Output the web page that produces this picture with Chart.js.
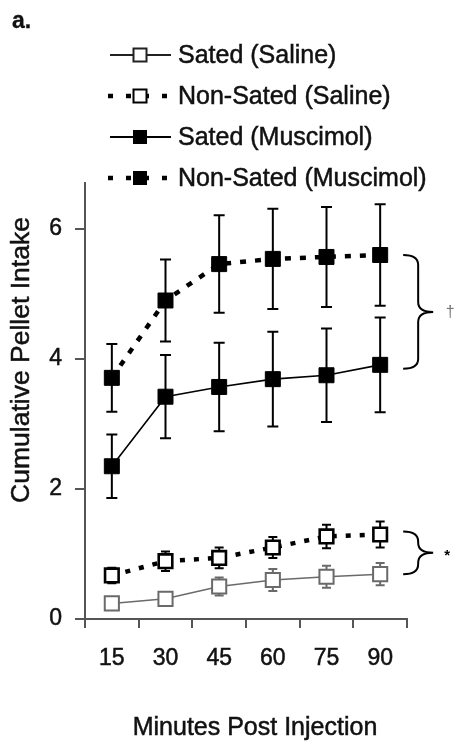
<!DOCTYPE html>
<html>
<head>
<meta charset="utf-8">
<script src="https://cdn.jsdelivr.net/npm/chart.js@4.4.1/dist/chart.umd.min.js"></script>
<style>
  html, body { margin: 0; padding: 0; background: #fff; }
  #wrap { width: 455px; height: 748px; position: relative; }
</style>
</head>
<body>
<div id="wrap"><canvas id="c"></canvas></div>
<script>
// Time points (minutes after injection)
const minutes = ['15', '30', '45', '60', '75', '90'];

// Group means and SEM
const satedSaline          = [0.24, 0.31, 0.50, 0.60, 0.65, 0.69];
const satedSalineErr       = [0.05, 0.05, 0.14, 0.17, 0.17, 0.17];
const nonSatedSaline       = [0.67, 0.89, 0.94, 1.10, 1.27, 1.30];
const nonSatedSalineErr    = [0.12, 0.15, 0.16, 0.16, 0.18, 0.20];
const satedMuscimol        = [2.35, 3.42, 3.57, 3.69, 3.75, 3.91];
const satedMuscimolErr     = [0.49, 0.64, 0.68, 0.73, 0.72, 0.73];
const nonSatedMuscimol     = [3.71, 4.90, 5.46, 5.54, 5.57, 5.60];
const nonSatedMuscimolErr  = [0.52, 0.63, 0.75, 0.77, 0.77, 0.78];

const yTicks = [0, 2, 4, 6];
const seriesLabels = ['Sated (Saline)', 'Non-Sated (Saline)', 'Sated (Muscimol)', 'Non-Sated (Muscimol)'];
const xTitle = 'Minutes Post Injection';
const yTitle = 'Cumulative Pellet Intake';

const FONT = '"Liberation Sans", Arial, Helvetica, sans-serif';
const GREY = '#6a6a6a';
const INK = '#111';

const datasets = [
  {
    label: seriesLabels[0], data: satedSaline, err: satedSalineErr,
    borderColor: GREY, borderWidth: 1.5, borderDash: [],
    pointStyle: 'rect', pointRadius: 10, pointBorderWidth: 2,
    pointBackgroundColor: '#fff', pointBorderColor: GREY, capW: 9, errColor: GREY
  },
  {
    label: seriesLabels[1], data: nonSatedSaline, err: nonSatedSalineErr,
    borderColor: '#000', borderWidth: 4.5, borderDash: [5, 9],
    pointStyle: 'rect', pointRadius: 9.6, pointBorderWidth: 2.6,
    pointBackgroundColor: '#fff', pointBorderColor: '#000', capW: 9, errColor: '#000'
  },
  {
    label: seriesLabels[2], data: satedMuscimol, err: satedMuscimolErr,
    borderColor: '#000', borderWidth: 1.6, borderDash: [],
    pointStyle: 'rect', pointRadius: 10.6, pointBorderWidth: 1,
    pointBackgroundColor: '#000', pointBorderColor: '#000', capW: 11, errColor: '#000'
  },
  {
    label: seriesLabels[3], data: nonSatedMuscimol, err: nonSatedMuscimolErr,
    borderColor: '#000', borderWidth: 4.5, borderDash: [6, 9],
    pointStyle: 'rect', pointRadius: 10.6, pointBorderWidth: 1,
    pointBackgroundColor: '#000', pointBorderColor: '#000', capW: 11, errColor: '#000'
  }
].map(d => Object.assign(d, { fill: false, tension: 0, pointHoverRadius: d.pointRadius }));

// Slightly heavier text: fill plus a thin outline in the same colour
function heavyText(ctx, text, x, y, color, stroke) {
  ctx.fillStyle = color;
  ctx.fillText(text, x, y);
  ctx.strokeStyle = color;
  ctx.lineWidth = stroke;
  ctx.setLineDash([]);
  ctx.strokeText(text, x, y);
}

// Vertical SEM bars, drawn underneath the markers
const errorBars = {
  id: 'errorBars',
  beforeDatasetsDraw(chart) {
    const { ctx } = chart;
    const ys = chart.scales.y;
    chart.data.datasets.forEach((ds, i) => {
      const meta = chart.getDatasetMeta(i);
      ctx.save();
      ctx.strokeStyle = ds.errColor;
      ctx.lineWidth = 2;
      ctx.setLineDash([]);
      meta.data.forEach((pt, j) => {
        const v = ds.data[j], e = ds.err[j];
        const top = ys.getPixelForValue(v + e);
        const bot = ys.getPixelForValue(v - e);
        const half = ds.capW / 2;
        ctx.beginPath();
        ctx.moveTo(pt.x, top); ctx.lineTo(pt.x, bot);
        ctx.moveTo(pt.x - half, top); ctx.lineTo(pt.x + half, top);
        ctx.moveTo(pt.x - half, bot); ctx.lineTo(pt.x + half, bot);
        ctx.stroke();
      });
      ctx.restore();
    });
  }
};

// Curly brace between two levels, opening to the left
function brace(ctx, x0, top, bottom, depth) {
  const mid = (top + bottom) / 2;
  const xm = x0 + depth / 2, xt = x0 + depth;
  const r = Math.min(10, (bottom - top) / 4);
  ctx.beginPath();
  ctx.moveTo(x0, top);
  ctx.quadraticCurveTo(xm, top, xm, top + r);
  ctx.lineTo(xm, mid - r);
  ctx.quadraticCurveTo(xm, mid, xt, mid);
  ctx.quadraticCurveTo(xm, mid, xm, mid + r);
  ctx.lineTo(xm, bottom - r);
  ctx.quadraticCurveTo(xm, bottom, x0, bottom);
  ctx.stroke();
  return mid;
}

const annotations = {
  id: 'annotations',
  afterDraw(chart) {
    const { ctx } = chart;
    const xs = chart.scales.x, ys = chart.scales.y;
    const last = minutes.length - 1;
    const x0 = xs.getPixelForValue(last) + 23;
    ctx.save();
    ctx.strokeStyle = '#000';
    ctx.lineWidth = 2;
    const m1 = brace(ctx, x0, ys.getPixelForValue(nonSatedMuscimol[last]), ys.getPixelForValue(satedMuscimol[last]) + 4, 30);
    const m2 = brace(ctx, x0, ys.getPixelForValue(nonSatedSaline[last]) - 3, ys.getPixelForValue(satedSaline[last]), 30);
    ctx.fillStyle = '#777';
    ctx.font = '16px ' + FONT;
    ctx.textAlign = 'center';
    ctx.textBaseline = 'middle';
    ctx.fillText('\u2020', x0 + 47, m1 + 1);
    ctx.fillStyle = '#000';
    ctx.font = 'bold 15px ' + FONT;
    ctx.fillText('*', x0 + 44, m2 + 3);

    // Axis titles
    ctx.font = '25px ' + FONT;
    heavyText(ctx, xTitle, 255, 728, INK, 0.5);
    ctx.save();
    ctx.translate(22, 360);
    ctx.rotate(-Math.PI / 2);
    ctx.font = '26.5px ' + FONT;
    heavyText(ctx, yTitle, 0, 0, INK, 0.5);
    ctx.restore();

    // Panel letter
    ctx.font = 'bold 23px ' + FONT;
    ctx.textAlign = 'left';
    ctx.textBaseline = 'alphabetic';
    heavyText(ctx, 'a.', 12, 28, INK, 0.3);

    // Legend on a white box that sits over the top of the plot
    ctx.fillStyle = '#fff';
    ctx.fillRect(76, 34, 370, 148);
    const rowY = [55, 96, 137, 178];
    chart.data.datasets.forEach((ds, i) => {
      const y = rowY[i];
      ctx.save();
      ctx.strokeStyle = i === 0 ? '#222' : ds.borderColor;
      ctx.lineWidth = ds.borderDash.length ? 4.5 : 1.8;
      ctx.setLineDash(ds.borderDash.length ? [5, 13] : []);
      ctx.beginPath();
      ctx.moveTo(ds.borderDash.length ? 108 : 110, y);
      ctx.lineTo(171, y);
      ctx.stroke();
      ctx.setLineDash([]);
      const s = 13;
      ctx.fillStyle = ds.pointBackgroundColor;
      ctx.fillRect(140 - s / 2, y - s / 2, s, s);
      ctx.strokeStyle = i === 0 ? '#222' : ds.pointBorderColor;
      ctx.lineWidth = i < 2 ? 2 : 1;
      ctx.strokeRect(140 - s / 2, y - s / 2, s, s);
      ctx.restore();
      ctx.font = '25px ' + FONT;
      ctx.textAlign = 'left';
      ctx.textBaseline = 'middle';
      heavyText(ctx, ds.label, 178, y + 1, INK, 0.5);
    });
    ctx.restore();
  }
};

new Chart(document.getElementById('c'), {
  type: 'line',
  data: { labels: minutes, datasets },
  plugins: [errorBars, annotations],
  options: {
    responsive: true,
    maintainAspectRatio: false,
    animation: false,
    events: [],
    layout: { padding: { top: 164, right: 48, bottom: 0, left: 0 } },
    plugins: { legend: { display: false }, tooltip: { enabled: false } },
    scales: {
      x: {
        offset: true,
        grid: { offset: true, drawOnChartArea: false, tickLength: 9, color: '#555', lineWidth: 2 },
        border: { display: true, color: '#555', width: 2 },
        ticks: { color: INK, font: { family: FONT, size: 23 }, padding: 17, maxRotation: 0, textStrokeColor: INK, textStrokeWidth: 0.5 },
        afterFit(scale) { scale.height = 129; }
      },
      y: {
        min: 0, max: 7,
        grid: { drawOnChartArea: false, tickLength: 10, color: '#555', lineWidth: 2 },
        border: { display: true, color: '#555', width: 2 },
        ticks: { color: INK, font: { family: FONT, size: 23 }, padding: 13, includeBounds: false, textStrokeColor: INK, textStrokeWidth: 0.5 },
        afterBuildTicks(scale) { scale.ticks = yTicks.map(v => ({ value: v })); },
        afterFit(scale) { scale.width = 85; }
      }
    }
  }
});
</script>
</body>
</html>
